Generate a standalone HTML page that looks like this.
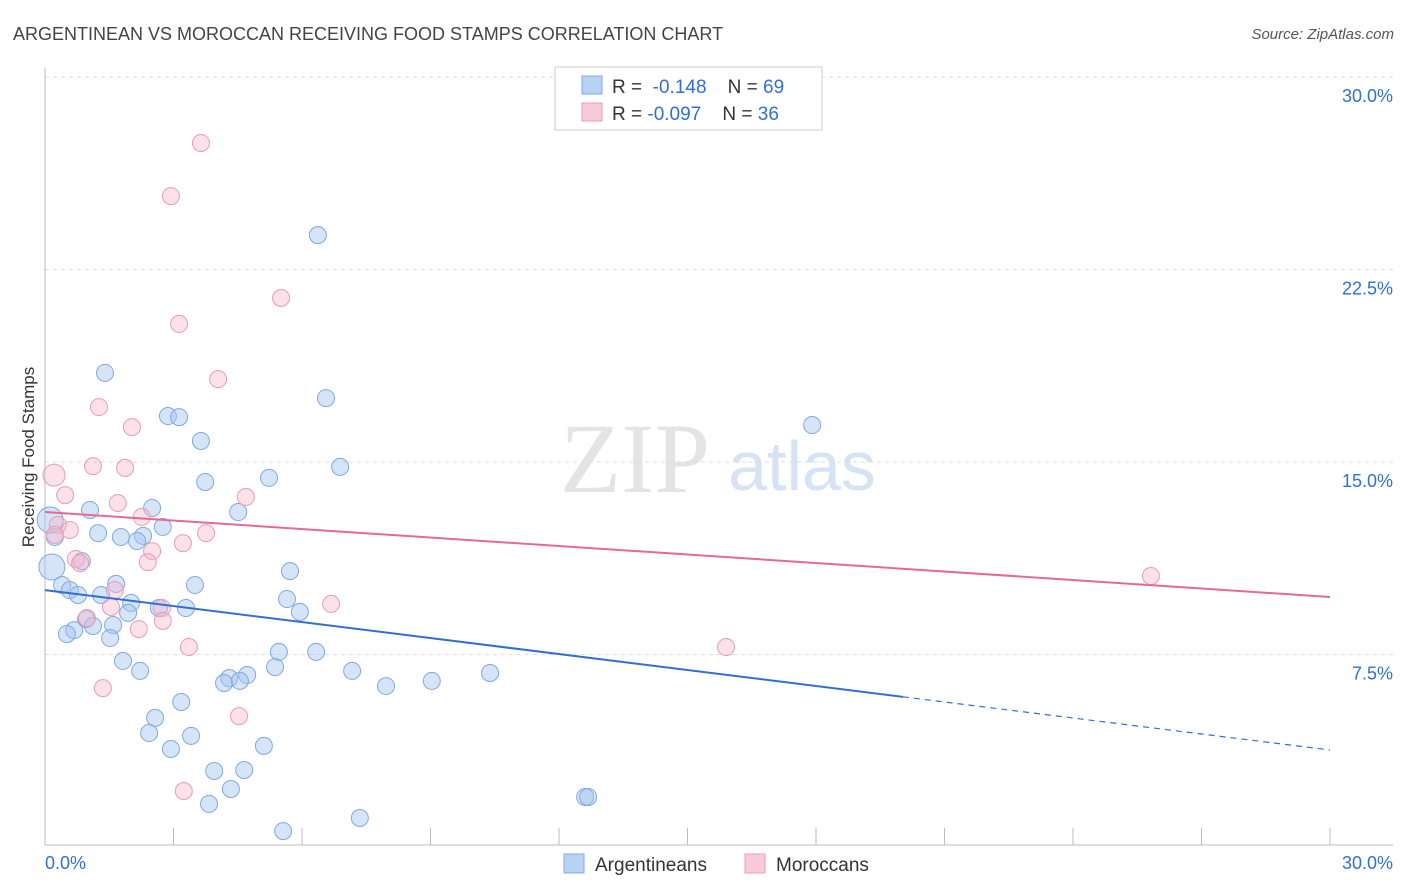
<!DOCTYPE html>
<html><head><meta charset="utf-8">
<style>
body{margin:0;background:#fff;font-family:"Liberation Sans",sans-serif;}
svg{display:block}
</style></head>
<body>
<svg id="chart" width="1406" height="892" xmlns="http://www.w3.org/2000/svg">
<text x="13" y="40" font-size="18" fill="#444">ARGENTINEAN VS MOROCCAN RECEIVING FOOD STAMPS CORRELATION CHART</text>
<text x="1394" y="39" font-size="15" fill="#555" font-style="italic" text-anchor="end">Source: ZipAtlas.com</text>
<text x="635" y="492" font-size="100" fill="#e4e4e4" font-family="Liberation Serif,serif" text-anchor="middle">ZIP</text>
<text x="802" y="490" font-size="70" fill="#d6e3f5" text-anchor="middle">atlas</text>
<g id="grid"></g>
<g id="axes"></g>
<g id="marks"></g>
<text transform="translate(34,457) rotate(-90)" font-size="17" fill="#333" text-anchor="middle">Receiving Food Stamps</text>
<g>
<rect x="555" y="67" width="267" height="63" fill="#fff" stroke="#ccc"/>
<rect x="582" y="76" width="20" height="18" fill="#b9d2f3" stroke="#7fa9e0"/>
<rect x="582" y="103" width="20" height="18" fill="#f9cbd9" stroke="#e99bb5"/>
<text x="612" y="93" font-size="19" fill="#333" xml:space="preserve">R =  <tspan fill="#2f6fd6">-0.148</tspan>    N = <tspan fill="#2f6fd6">69</tspan></text>
<text x="612" y="120" font-size="19" fill="#333" xml:space="preserve">R = <tspan fill="#2f6fd6">-0.097</tspan>    N = <tspan fill="#2f6fd6">36</tspan></text>
</g>
<g>
<rect x="564" y="854" width="20" height="19" fill="#b9d2f3" stroke="#7fa9e0"/>
<text x="595" y="871" font-size="19" fill="#333">Argentineans</text>
<rect x="745" y="854" width="20" height="19" fill="#f9cbd9" stroke="#e99bb5"/>
<text x="776" y="871" font-size="19" fill="#333">Moroccans</text>
</g>
</svg>
<script>
const yTicks=[7.5,15,22.5,30];
const yTickLabels=["7.5%","15.0%","22.5%","30.0%"];
const xTickLabels=["0.0%","30.0%"];
const blueX=[6.37,1.40,6.56,17.91,2.87,3.13,3.64,6.89,5.23,3.74,2.50,1.05,4.51,2.75,1.24,1.77,2.29,2.15,0.23,0.12,0.16,0.86,5.72,0.40,1.66,3.50,0.58,0.77,1.31,2.01,2.66,3.29,5.65,5.95,1.94,0.96,1.59,1.12,0.68,0.51,1.52,5.46,6.33,1.82,2.22,5.37,7.17,10.39,4.72,4.30,4.18,4.55,7.96,9.03,3.18,2.57,2.43,3.41,2.94,5.11,3.95,4.65,4.34,3.83,12.61,12.68,7.35,5.56];
const blueY=[23.84,18.47,17.49,16.44,16.79,16.75,15.82,14.81,14.38,14.22,13.21,13.13,13.05,12.47,12.23,12.08,12.12,11.92,12.08,12.74,10.91,11.14,10.75,10.21,10.25,10.21,10.01,9.82,9.82,9.51,9.31,9.31,9.66,9.16,9.12,8.88,8.65,8.61,8.45,8.30,8.14,7.60,7.60,7.25,6.86,7.01,6.86,6.78,6.70,6.58,6.39,6.47,6.27,6.47,5.65,5.03,4.44,4.33,3.82,3.94,2.96,3.00,2.26,1.68,1.95,1.95,1.13,0.62];
const blueBig=[19,20];
const pinkX=[3.64,2.94,5.51,3.13,4.04,1.26,2.03,1.12,1.87,0.21,0.47,4.69,1.70,2.26,0.30,0.58,0.23,3.76,3.22,2.50,2.40,0.72,0.82,1.63,6.68,2.73,0.98,1.54,2.75,2.19,3.36,15.90,25.82,1.35,4.53,3.24];
const pinkY=[27.43,25.36,21.39,20.38,18.23,17.14,16.36,14.84,14.77,14.49,13.71,13.64,13.40,12.86,12.55,12.35,12.16,12.23,11.84,11.53,11.10,11.22,11.06,10.01,9.47,9.31,8.92,9.35,8.81,8.49,7.79,7.79,10.56,6.19,5.10,2.18];
const pinkBig=[9];
const blueLine=[10.01,3.78];
const blueSolidEnd=20.03;
const pinkLine=[13.05,9.74];

const NS="http://www.w3.org/2000/svg";
const sx=v=>45+v/30*1285;
const sy=v=>847-v/7.5*192.5;
function mk(tag,attrs,parent){const e=document.createElementNS(NS,tag);for(const k in attrs)e.setAttribute(k,attrs[k]);document.getElementById(parent).appendChild(e);return e;}

yTicks.forEach((t,i)=>{
 const l=mk('line',{x1:45,x2:1393,y1:sy(t),y2:sy(t),stroke:'#ddd','stroke-dasharray':'4,4'},'grid');
 
 
 const tx=mk('text',{x:1393,y:sy(t)+25,'font-size':18,fill:'#2f6fd6','text-anchor':'end'},'grid');
 tx.textContent=yTickLabels[i];
 
 
});
let a=mk('line',{x1:45,x2:45,y1:68,y2:845,stroke:'#bbb'},'axes');


a=mk('line',{x1:45,x2:1393,y1:845,y2:845,stroke:'#bbb'},'axes');


for(let i=0;i<=10;i++){
 const t=mk('line',{x1:sx(i*3),x2:sx(i*3),y1:828,y2:845,stroke:'#bbb'},'axes');
 
 
}
[[0,'start',45],[30,'end',1393]].forEach((p,i)=>{
 const tx=mk('text',{x:p[2],y:869,'font-size':18,fill:'#2f6fd6','text-anchor':p[1]},'axes');
 tx.textContent=xTickLabels[i];
 
 
});
blueX.forEach((x,i)=>{
 const c=mk('circle',{cx:sx(x),cy:sy(blueY[i]),r:blueBig.includes(i)?13:8.5,fill:'rgba(164,196,240,0.45)',stroke:'#7fa9e0','stroke-width':1},'marks');
 
 
});
pinkX.forEach((x,i)=>{
 const c=mk('circle',{cx:sx(x),cy:sy(pinkY[i]),r:pinkBig.includes(i)?11:8.5,fill:'rgba(248,180,200,0.4)',stroke:'#e99bb5','stroke-width':1},'marks');
 
 
});
const by=x=>blueLine[0]+(blueLine[1]-blueLine[0])*x/30;
let l=mk('line',{x1:sx(0),y1:sy(blueLine[0]),x2:sx(blueSolidEnd),y2:sy(by(blueSolidEnd)),stroke:'#2f6fd6','stroke-width':2},'marks');


l=mk('line',{x1:sx(blueSolidEnd),y1:sy(by(blueSolidEnd)),x2:sx(30),y2:sy(blueLine[1]),stroke:'#2f6fd6','stroke-width':1.2,'stroke-dasharray':'6,5'},'marks');


l=mk('line',{x1:sx(0),y1:sy(pinkLine[0]),x2:sx(30),y2:sy(pinkLine[1]),stroke:'#e36a94','stroke-width':2},'marks');


</script>
</body></html>
